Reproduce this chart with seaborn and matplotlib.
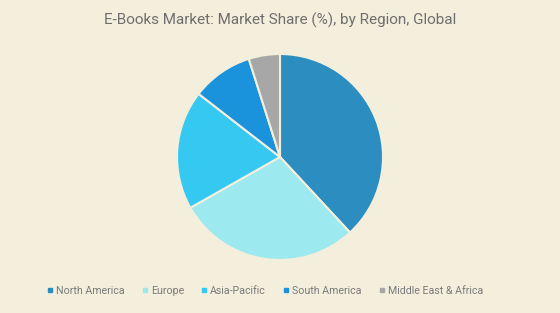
import matplotlib
matplotlib.use("Agg")
import matplotlib.pyplot as plt
from matplotlib.lines import Line2D
import seaborn as sns

regions = ["North America", "Europe", "Asia-Pacific", "South America", "Middle East & Africa"]
shares = [38.1, 28.7, 18.7, 9.6, 4.9]
colors = ["#2B8DC0", "#9CE9F0", "#35C9F2", "#1B93DC", "#A7A7A7"]
title = "E-Books Market: Market Share (%), by Region, Global"

bg = "#F3EFDC"
sns.set_theme(style="white")
plt.rcParams["font.family"] = ["Roboto", "DejaVu Sans"]

fig = plt.figure(figsize=(5.6, 3.13), dpi=100, facecolor=bg)
W, H = 560, 313
cx, cy, r = 280, 157, 103
ax = fig.add_axes([(cx - r) / W, (H - cy - r) / H, 2 * r / W, 2 * r / H])
ax.set_facecolor(bg)
ax.pie(shares, colors=colors, startangle=90, counterclock=False,
       wedgeprops=dict(edgecolor=bg, linewidth=1.5))
ax.set_xlim(-1.0, 1.0)
ax.set_ylim(-1.0, 1.0)
ax.axis("off")

fig.text(0.5, 1 - 20 / H, title, ha="center", va="center", fontsize=11, color="#6E6E6E")

handles = [Line2D([], [], marker="s", linestyle="none", markersize=3.5,
                  markerfacecolor=c, markeredgecolor=c) for c in colors]
fig.legend(handles, regions, loc="center", bbox_to_anchor=(265 / W, 1 - 291 / H), ncol=5,
           frameon=False, fontsize=7.7, labelcolor="#7A7A7A", handlelength=0.6,
           handletextpad=0.25, columnspacing=1.6, borderaxespad=0)

fig.savefig("out.png", dpi=100, facecolor=bg)
